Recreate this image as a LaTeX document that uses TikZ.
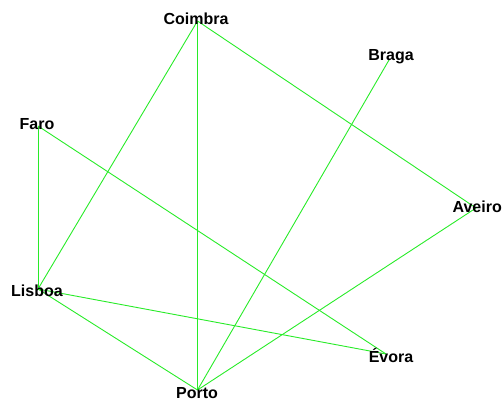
\documentclass[tikz,border=0pt]{standalone}
\usepackage{fontspec}
\setmainfont{Liberation Sans}
\begin{document}
\begin{tikzpicture}[x=1pt,y=-1pt,
  city/.style={inner sep=0pt,font=\fontsize{16}{18}\selectfont\bfseries,text=black},
  road/.style={draw={rgb,255:red,40;green,235;blue,40},line width=0.9pt}]
\useasboundingbox (0,0) rectangle (503,402);
\coordinate (Coimbra) at (197.5,21);
\coordinate (Braga) at (389,60);
\coordinate (Faro) at (38,126);
\coordinate (Aveiro) at (476,208);
\coordinate (Lisboa) at (38,289);
\coordinate (Evora) at (386,354);
\coordinate (Porto) at (197.5,390);
\draw[road] (Coimbra) -- (Porto);
\draw[road] (Coimbra) -- (Lisboa);
\draw[road] (Coimbra) -- (Aveiro);
\draw[road] (Braga) -- (Porto);
\draw[road] (Faro) -- (Lisboa);
\draw[road] (Faro) -- (Evora);
\draw[road] (Aveiro) -- (Porto);
\draw[road] (Lisboa) -- (Evora);
\draw[road] (Lisboa) -- (Porto);
\node[city] (tCoimbra) at (196,19) {Coimbra};
\node[city] (tBraga) at (391,57) {Braga};
\node[city] (tFaro) at (37,124) {Faro};
\node[city,anchor=east] (tAveiro) at (502,207) {Aveiro};
\node[city] (tLisboa) at (37,291) {Lisboa};
\node[city] (tEvora) at (391,355) {Évora};
\node[city] (tPorto) at (197,393) {Porto};
\end{tikzpicture}
\end{document}
